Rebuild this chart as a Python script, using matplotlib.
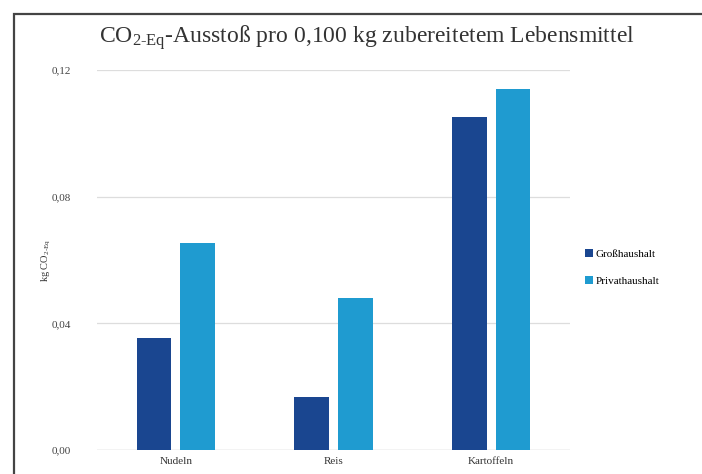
import matplotlib.pyplot as plt
import numpy as np
from matplotlib.patches import Rectangle

lebensmittel = ["Nudeln", "Reis", "Kartoffeln"]
grosshaushalt = [0.0354, 0.0167, 0.1052]
privathaushalt = [0.0654, 0.0480, 0.1140]
y_ticks = [0.00, 0.04, 0.08, 0.12]
y_tick_labels = ["0,00", "0,04", "0,08", "0,12"]

plt.rcParams['font.family'] = ['Liberation Serif', 'DejaVu Serif']
plt.rcParams['mathtext.fontset'] = 'custom'
plt.rcParams['mathtext.rm'] = 'Liberation Serif'
plt.rcParams['mathtext.it'] = 'Liberation Serif:italic'
plt.rcParams['mathtext.default'] = 'regular'

fig = plt.figure(figsize=(7.02, 4.74), dpi=100)
# Rahmen um die Grafik
fig.patches.append(Rectangle((14/702, -0.1), 1.0, 1 - 14/474 + 0.1, transform=fig.transFigure,
                             fill=False, edgecolor='#444444', linewidth=1.6))

ax = fig.add_axes([97/702, 1 - 450/474, 473/702, 380/474])
x = np.arange(len(lebensmittel))
ancho = 0.22
ax.bar(x - 0.139, grosshaushalt, ancho, color='#1a4690', label='Großhaushalt', zorder=3)
ax.bar(x + 0.139, privathaushalt, ancho, color='#1f9bd0', label='Privathaushalt', zorder=3)

ax.set_xlim(-0.5, 2.5)
ax.set_ylim(0, 0.12)
ax.set_yticks(y_ticks)
ax.set_yticklabels(y_tick_labels, fontsize=8, color='#444444')
ax.set_xticks(x)
ax.set_xticklabels(lebensmittel, fontsize=8, color='#333333')
ax.tick_params(length=0, pad=19, axis='y')
ax.tick_params(length=0, pad=5, axis='x')
ax.grid(axis='y', color='#dddddd', linewidth=0.9, zorder=0)
for s in ax.spines.values():
    s.set_visible(False)
ax.axhline(0, color='#d8d8d8', linewidth=1, zorder=2)

ax.set_ylabel('kg CO$_{2\\text{-}Eq}$', fontsize=7.5, color='#333333')
ax.yaxis.set_label_coords(-0.093, 0.5)
fig.text(367/702, 1 - 38/474, 'CO$_{2\\text{-}Eq}$-Ausstoß pro 0,100 kg zubereitetem Lebensmittel',
         ha='center', va='center', fontsize=17, color='#333333')

ax.legend(loc='center left', bbox_to_anchor=(1.01, 0.48), frameon=False, fontsize=8,
          handlelength=0.7, handleheight=0.7, handletextpad=0.3, labelspacing=1.5)

fig.savefig('out.png', dpi=100)
